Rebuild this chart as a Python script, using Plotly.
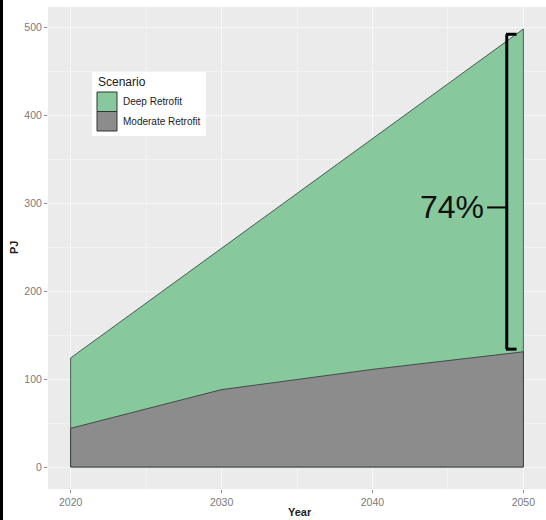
import plotly.graph_objects as go

years = [2020, 2030, 2040, 2050]
deep_retrofit = [124, 249, 374, 498]
moderate_retrofit = [44, 88, 111, 131]
series_names = ["Deep Retrofit", "Moderate Retrofit"]
x_ticks = [2020, 2030, 2040, 2050]
y_ticks = [0, 100, 200, 300, 400, 500]
pct_label = "74%"

W, H = 546, 520
ML, MR, MT, MB = 48, 0, 7, 31
PW, PH = W - ML - MR, H - MT - MB

green = "#87C99D"
grey = "#8C8C8C"
edge = "rgba(40,50,45,0.85)"

FONT = "Liberation Sans, Arial"

fig = go.Figure()
for vals, col, nm in ((deep_retrofit, green, series_names[0]), (moderate_retrofit, grey, series_names[1])):
    xs = list(years) + [years[-1], years[0], years[0]]
    ys = list(vals) + [0, 0, vals[0]]
    fig.add_trace(go.Scatter(x=xs, y=ys, mode="lines", fill="toself",
                             fillcolor=col, line=dict(color=edge, width=0.9),
                             name=nm, showlegend=False, hoverinfo="skip"))


def px(xp):
    return (xp - ML) / PW


def py(yp):
    return (MT + PH - yp) / PH


shapes = []
# bracket derived from the data
top = deep_retrofit[-1] - 6
bot = moderate_retrofit[-1] + 3
mid = bot + 0.45 * (top - bot)
bx = years[-1] - 1.1
stub = years[-1] - 0.45
tick = years[-1] - 2.4
line_b = dict(color="black", width=3)
shapes += [
    dict(type="line", xref="x", yref="y", x0=bx, x1=bx, y0=bot, y1=top, line=line_b),
    dict(type="line", xref="x", yref="y", x0=bx - 0.05, x1=stub, y0=top, y1=top, line=line_b),
    dict(type="line", xref="x", yref="y", x0=bx - 0.05, x1=stub, y0=bot, y1=bot, line=line_b),
    dict(type="line", xref="x", yref="y", x0=tick, x1=bx, y0=mid, y1=mid, line=dict(color="black", width=2)),
]

# manual legend
shapes += [
    dict(type="rect", xref="paper", yref="paper", x0=px(92), x1=px(206), y0=py(136), y1=py(72),
         fillcolor="white", line=dict(width=0), layer="above"),
    dict(type="rect", xref="paper", yref="paper", x0=px(97), x1=px(117), y0=py(111.5), y1=py(92),
         fillcolor=green, line=dict(color="#333333", width=1), layer="above"),
    dict(type="rect", xref="paper", yref="paper", x0=px(97), x1=px(117), y0=py(131), y1=py(111.5),
         fillcolor=grey, line=dict(color="#333333", width=1), layer="above"),
]
# left black border
shapes.append(dict(type="rect", xref="paper", yref="paper", x0=px(0), x1=px(3), y0=py(H + 2), y1=py(-2),
                   fillcolor="black", line=dict(width=0), layer="above"))

annotations = [
    dict(text="Scenario", xref="paper", yref="paper", x=px(96), y=py(82), xanchor="left", yanchor="middle",
         showarrow=False, font=dict(family=FONT, size=12, color="#1a1a1a")),
    dict(text=series_names[0], xref="paper", yref="paper", x=px(121), y=py(102), xanchor="left",
         yanchor="middle", showarrow=False, font=dict(family=FONT, size=10, color="#222")),
    dict(text=series_names[1], xref="paper", yref="paper", x=px(121), y=py(121), xanchor="left",
         yanchor="middle", showarrow=False, font=dict(family=FONT, size=10, color="#222")),
    dict(text=pct_label, xref="x", yref="y", x=tick - 0.1, y=mid, xanchor="right", yanchor="middle",
         showarrow=False, font=dict(family=FONT, size=32, color="#111")),
    dict(text="<b>Year</b>", xref="paper", yref="paper", x=px(300), y=py(512), xanchor="center",
         yanchor="middle", showarrow=False, font=dict(family=FONT, size=11, color="#222")),
    dict(text="<b>PJ</b>", xref="paper", yref="paper", x=px(14), y=py(248), xanchor="center",
         yanchor="middle", textangle=-90, showarrow=False, font=dict(family=FONT, size=11, color="#222")),
]

fig.update_layout(
    width=W, height=H,
    margin=dict(l=ML, r=MR, t=MT, b=MB, autoexpand=False),
    paper_bgcolor="white", plot_bgcolor="#EBEBEB",
    shapes=shapes, annotations=annotations,
    showlegend=False,
    font=dict(family=FONT, color="#7f7f7f"),
    xaxis=dict(range=[2018.5, 2051.5], tickvals=x_ticks, ticktext=[str(v) for v in x_ticks],
               automargin=False,
               showgrid=True, gridcolor="#F7F7F7", gridwidth=1.2, zeroline=False,
               ticks="outside", ticklen=3, tickcolor="#8a8a8a", tickfont=dict(size=10.5, color="#7a7a7a"),
               minor=dict(dtick=5, tick0=2015, showgrid=True, gridcolor="#F3F3F3", gridwidth=0.6),
               showline=False),
    yaxis=dict(range=[-25, 523], tickvals=y_ticks, ticktext=[str(v) for v in y_ticks],
               automargin=False,
               showgrid=True, gridcolor="#F7F7F7", gridwidth=1.2, zeroline=False,
               ticks="outside", ticklen=3, tickcolor="#8a8a8a", tickfont=dict(size=10.5, color="#7a7a7a"),
               minor=dict(dtick=50, tick0=50, showgrid=True, gridcolor="#F3F3F3", gridwidth=0.6),
               showline=False),
)

post = "document.body.style.margin='0';"
fig.write_html("out.html", config={"displayModeBar": False}, post_script=post)
